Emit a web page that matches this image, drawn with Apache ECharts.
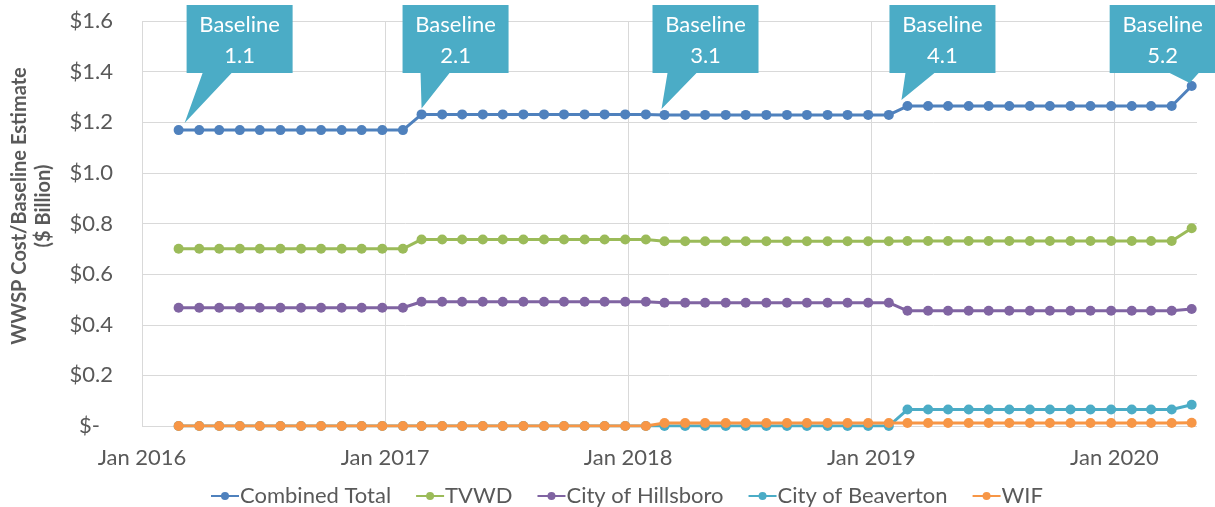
<!DOCTYPE html>
<html>
<head>
<meta charset="utf-8">
<script src="https://cdn.jsdelivr.net/npm/echarts@6/dist/echarts.min.js"></script>
<style>
  html, body { margin: 0; padding: 0; background: #fff; }
  #chart { width: 1215px; height: 507px; }
</style>
</head>
<body>
<div id="chart"></div>
<script>
// monthly snapshots, Mar 2016 .. May 2020
const months = [
  '2016-03','2016-04','2016-05','2016-06','2016-07','2016-08','2016-09','2016-10','2016-11','2016-12',
  '2017-01','2017-02','2017-03','2017-04','2017-05','2017-06','2017-07','2017-08','2017-09','2017-10','2017-11','2017-12',
  '2018-01','2018-02','2018-03','2018-04','2018-05','2018-06','2018-07','2018-08','2018-09','2018-10','2018-11','2018-12',
  '2019-01','2019-02','2019-03','2019-04','2019-05','2019-06','2019-07','2019-08','2019-09','2019-10','2019-11','2019-12',
  '2020-01','2020-02','2020-03','2020-04','2020-05'
];

const combinedTotal = [
  1.169,1.169,1.169,1.169,1.169,1.169,1.169,1.169,1.169,1.169,
  1.169,1.169,1.231,1.231,1.231,1.231,1.231,1.231,1.231,1.231,1.231,1.231,
  1.231,1.231,1.229,1.229,1.229,1.229,1.229,1.229,1.229,1.229,1.229,1.229,
  1.229,1.229,1.264,1.264,1.264,1.264,1.264,1.264,1.264,1.264,1.264,1.264,
  1.264,1.264,1.264,1.264,1.343
];
const tvwd = [
  0.700,0.700,0.700,0.700,0.700,0.700,0.700,0.700,0.700,0.700,
  0.700,0.700,0.737,0.737,0.737,0.737,0.737,0.737,0.737,0.737,0.737,0.737,
  0.737,0.737,0.730,0.730,0.730,0.730,0.730,0.730,0.730,0.730,0.730,0.730,
  0.730,0.730,0.731,0.731,0.731,0.731,0.731,0.731,0.731,0.731,0.731,0.731,
  0.731,0.731,0.731,0.731,0.781
];
const hillsboro = [
  0.467,0.467,0.467,0.467,0.467,0.467,0.467,0.467,0.467,0.467,
  0.467,0.467,0.491,0.491,0.491,0.491,0.491,0.491,0.491,0.491,0.491,0.491,
  0.491,0.491,0.487,0.487,0.487,0.487,0.487,0.487,0.487,0.487,0.487,0.487,
  0.487,0.487,0.455,0.455,0.455,0.455,0.455,0.455,0.455,0.455,0.455,0.455,
  0.455,0.455,0.455,0.455,0.462
];
const beaverton = [
  0,0,0,0,0,0,0,0,0,0,
  0,0,0,0,0,0,0,0,0,0,0,0,
  0,0,0,0,0,0,0,0,0,0,0,0,
  0,0,0.065,0.065,0.065,0.065,0.065,0.065,0.065,0.065,0.065,0.065,
  0.065,0.065,0.065,0.065,0.084
];
const wif = [
  0,0,0,0,0,0,0,0,0,0,
  0,0,0,0,0,0,0,0,0,0,0,0,
  0,0,0.012,0.012,0.012,0.012,0.012,0.012,0.012,0.012,0.012,0.012,
  0.012,0.012,0.012,0.012,0.012,0.012,0.012,0.012,0.012,0.012,0.012,0.012,
  0.012,0.012,0.012,0.012,0.013
];

const seriesNames = ['Combined Total', 'TVWD', 'City of Hillsboro', 'City of Beaverton', 'WIF'];
const seriesValues = [combinedTotal, tvwd, hillsboro, beaverton, wif];
const colors = ['#4F81BD', '#9BBB59', '#8064A2', '#4BACC6', '#F79646'];

// baseline callouts on the combined total line
const calloutLabels = ['Baseline\n1.1', 'Baseline\n2.1', 'Baseline\n3.1', 'Baseline\n4.1', 'Baseline\n5.2'];
const calloutMonths = ['2016-03', '2017-03', '2018-03', '2019-03', '2020-05'];
// layout of each bubble: box left offset from point, pointer base offset in box, tip offset from point
const calloutLayout = [
  { dx: 8,   base: 16, tip: [6, -7] },
  { dx: -19, base: 18, tip: [0, -6] },
  { dx: -12, base: 15, tip: [-3, -6] },
  { dx: -18, base: 16, tip: [-6, -6] },
  { dx: -82, base: 60, tip: [-2, -3] }
];

const FONT = 'Lato';
const FS = 22;
const MON = ['Jan','Feb','Mar','Apr','May','Jun','Jul','Aug','Sep','Oct','Nov','Dec'];
const DAY = 86400000;

function toTs(s) {
  const p = s.split('-').map(Number);
  return +new Date(p[0], p[1] - 1, 1);
}

const chart = echarts.init(document.getElementById('chart'), null, { renderer: 'canvas' });

const option = {
  animation: false,
  color: colors,
  grid: { left: 142, right: 18, top: 21, bottom: 81, containLabel: false },
  xAxis: {
    type: 'value',
    min: +new Date(2016, 0, 6),
    max: +new Date(2020, 4, 9),
    interval: 365.25 * DAY,
    axisLine: { show: false },
    axisTick: { show: false },
    splitLine: { show: true, showMaxLine: false, lineStyle: { color: '#D9D9D9', width: 1 } },
    axisLabel: {
      showMaxLabel: false,
      margin: 21,
      color: '#595959',
      fontFamily: FONT,
      fontSize: FS,
      formatter: function (v) {
        const d = new Date(v + 2 * DAY);
        return MON[d.getMonth()] + ' ' + d.getFullYear();
      }
    }
  },
  yAxis: {
    type: 'value',
    min: 0,
    max: 1.6,
    interval: 0.2,
    axisLine: { show: false },
    axisTick: { show: false },
    splitLine: { lineStyle: { color: '#D9D9D9', width: 1 } },
    axisLabel: {
      margin: 29,
      color: '#595959',
      fontFamily: FONT,
      fontSize: FS,
      formatter: function (v) {
        if (v === 0) return '{z|$-}';
        return '$' + v.toFixed(1);
      },
      rich: {
        z: { color: '#595959', fontFamily: FONT, fontSize: FS, padding: [0, 13, 0, 0] }
      }
    }
  },
  legend: {
    left: 205,
    top: 480,
    itemWidth: 28,
    itemHeight: 10,
    itemGap: 24,
    textStyle: { color: '#595959', fontFamily: FONT, fontSize: FS, padding: [0, 0, 0, -4] },
    data: seriesNames
  },
  series: seriesNames.map(function (name, i) {
    return {
      name: name,
      type: 'line',
      symbol: 'circle',
      symbolSize: 10,
      lineStyle: { width: 3, color: colors[i] },
      itemStyle: { color: colors[i] },
      emphasis: { disabled: true },
      z: 2 + i,
      data: months.map(function (m, j) { return [toTs(m), seriesValues[i][j]]; })
    };
  })
};

chart.setOption(option);

// y axis title
const graphics = [{
  type: 'text',
  x: 32,
  y: 206,
  rotation: Math.PI / 2,
  style: {
    text: 'WWSP Cost/Baseline Estimate\n($ Billion)',
    fill: '#595959',
    font: 'bold 20px ' + FONT,
    textAlign: 'center',
    textVerticalAlign: 'middle',
    lineHeight: 24
  }
}];

const boxTop = 5, boxBottom = 73, boxW = 106, baseW = 29;
calloutMonths.forEach(function (m, i) {
  const idx = months.indexOf(m);
  const pt = chart.convertToPixel({ gridIndex: 0 }, [toTs(m), combinedTotal[idx]]);
  const lay = calloutLayout[i];
  const bx = pt[0] + lay.dx;
  const b1 = bx + lay.base;
  const tip = [pt[0] + lay.tip[0], pt[1] + lay.tip[1]];
  graphics.push({
    type: 'polygon',
    z: 100,
    shape: {
      points: [[bx, boxTop], [bx + boxW, boxTop], [bx + boxW, boxBottom], [b1 + baseW, boxBottom],
               tip, [b1, boxBottom], [bx, boxBottom]]
    },
    style: { fill: '#4BACC6' }
  });
  graphics.push({
    type: 'text',
    z: 101,
    x: bx + boxW / 2,
    y: (boxTop + boxBottom) / 2 + 1,
    style: {
      text: calloutLabels[i],
      fill: '#FFFFFF',
      font: FS + 'px ' + FONT,
      textAlign: 'center',
      textVerticalAlign: 'middle',
      lineHeight: 31
    }
  });
});

chart.setOption({ graphic: graphics });
</script>
</body>
</html>
